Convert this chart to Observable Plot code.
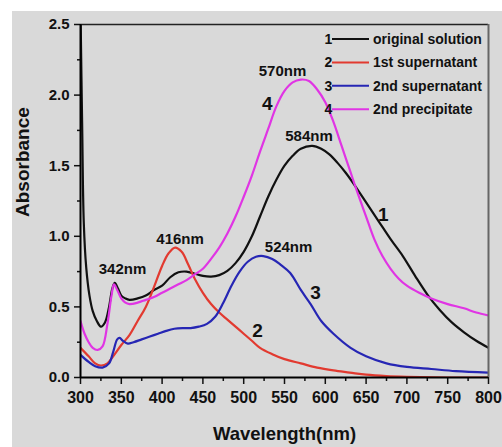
<!DOCTYPE html>
<html><head><meta charset="utf-8">
<script src="https://cdn.jsdelivr.net/npm/d3@7"></script>
<script src="https://cdn.jsdelivr.net/npm/@observablehq/plot@0.6"></script>
<style>
html,body{margin:0;padding:0;background:#fff;}
#chart{position:absolute;left:12px;top:11px;}
</style></head><body><div id="chart"></div>
<script>
const seriesNames = ["original solution", "1st supernatant", "2nd supernatant", "2nd precipitate"];
const seriesNumbers = ["1", "2", "3", "4"];
const seriesColors = ["#111111", "#e23a30", "#2626b4", "#e035e4"];

const wl1 = [300,302,304,307,311,315,320,325,330,335,339,342,346,350,355,360,370,380,390,400,410,420,430,440,450,460,470,480,490,500,510,520,530,540,550,560,570,584,595,605,615,625,635,650,665,680,695,710,726,740,755,770,785,800];
const abs1 = [2.6,1.8,1.1,0.78,0.58,0.47,0.40,0.36,0.39,0.50,0.63,0.67,0.63,0.58,0.56,0.55,0.56,0.58,0.62,0.65,0.71,0.745,0.75,0.735,0.72,0.715,0.725,0.755,0.81,0.89,1.00,1.14,1.28,1.40,1.50,1.57,1.62,1.64,1.62,1.58,1.52,1.45,1.37,1.24,1.11,0.98,0.86,0.72,0.58,0.48,0.39,0.32,0.26,0.21];

const wl2 = [300,310,318,325,333,340,350,360,370,380,390,400,408,416,424,432,440,450,460,470,480,490,500,510,520,535,550,570,590,610,630,650,675,700,750,800];
const abs2 = [0.21,0.15,0.10,0.085,0.10,0.15,0.23,0.30,0.40,0.50,0.64,0.79,0.88,0.92,0.89,0.80,0.70,0.60,0.52,0.46,0.41,0.36,0.31,0.26,0.21,0.165,0.13,0.10,0.07,0.05,0.035,0.02,0.01,0.005,0.0,0.0];

const wl3 = [300,310,318,327,335,340,345,348,352,358,365,375,385,395,405,415,425,435,445,455,465,475,485,495,505,515,524,535,545,557,570,582,595,610,631,650,675,700,730,760,800];
const abs3 = [0.16,0.11,0.08,0.07,0.10,0.18,0.27,0.28,0.26,0.24,0.25,0.27,0.29,0.31,0.33,0.345,0.35,0.35,0.36,0.38,0.43,0.53,0.65,0.75,0.82,0.855,0.86,0.84,0.80,0.74,0.62,0.52,0.40,0.31,0.21,0.15,0.10,0.075,0.06,0.045,0.035];

const wl4 = [300,305,310,315,321,327,333,338,341,345,350,355,360,370,380,390,400,410,420,430,440,450,460,470,480,490,500,510,520,530,540,550,560,570,580,590,600,610,620,630,640,650,660,670,680,690,700,715,730,750,770,785,800];
const abs4 = [0.40,0.31,0.25,0.21,0.195,0.22,0.38,0.58,0.66,0.62,0.56,0.53,0.52,0.53,0.55,0.57,0.60,0.63,0.66,0.69,0.73,0.77,0.84,0.92,1.02,1.14,1.28,1.43,1.60,1.76,1.92,2.03,2.09,2.11,2.10,2.04,1.95,1.81,1.64,1.47,1.30,1.14,0.98,0.86,0.77,0.70,0.65,0.60,0.56,0.52,0.49,0.46,0.44];

const xTickValues = [300,350,400,450,500,550,600,650,700,750,800];
const xMinorTicks = [325,375,425,475,525,575,625,675,725,775];
const yTickValues = [0,0.5,1.0,1.5,2.0,2.5];
const yMinorTicks = [0.25,0.75,1.25,1.75,2.25];

const peakText = ["342nm","416nm","524nm","570nm","584nm"];
const peakLabelWl = [351.5, 422, 555, 547.5, 580];
const peakLabelAbs = [0.765, 0.98, 0.92, 2.17, 1.71];

const curveNumText = ["1","2","3","4"];
const curveNumWl = [671, 517, 588, 529];
const curveNumAbs = [1.15, 0.33, 0.60, 1.94];

const wls = [wl1, wl2, wl3, wl4];
const abss = [abs1, abs2, abs3, abs4];
const rows = [];
seriesNames.forEach((s, i) => wls[i].forEach((w, j) => rows.push({series: s, wl: w, abs: abss[i][j]})));
const peaks = peakText.map((t, i) => ({t, wl: peakLabelWl[i], abs: peakLabelAbs[i]}));
const nums = curveNumText.map((t, i) => ({t, wl: curveNumWl[i], abs: curveNumAbs[i]}));

const FONT = "'Liberation Sans', Arial, Helvetica, sans-serif";

function legend() {
  const g = d3.create("svg:g").attr("font-family", FONT).attr("font-weight", "bold").attr("font-size", 14).attr("fill", "#111");
  seriesNames.forEach((name, i) => {
    const y = 28 + i * 23.4;
    g.append("line").attr("x1", 320).attr("x2", 357).attr("y1", y).attr("y2", y)
      .attr("stroke", seriesColors[i]).attr("stroke-width", 2);
    g.append("text").attr("x", 316.5).attr("y", y).attr("dy", "0.35em").attr("text-anchor", "middle").text(seriesNumbers[i]);
    g.append("text").attr("x", 361).attr("y", y).attr("dy", "0.35em").attr("text-anchor", "start").text(name);
  });
  return g.node();
}

const plot = Plot.plot({
  width: 490, height: 436,
  marginLeft: 68, marginRight: 14, marginTop: 13, marginBottom: 70,
  style: {background: "#d9d9d9", fontFamily: FONT, color: "#111", overflow: "visible"},
  x: {domain: [300, 800]},
  y: {domain: [0, 2.5]},
  color: {domain: seriesNames, range: seriesColors},
  marks: [
    Plot.axisX({ticks: xMinorTicks, tickSize: 4, tickFormat: () => "", strokeWidth: 1.5, label: null}),
    Plot.axisX({ticks: xTickValues, tickSize: 7, tickPadding: 7, fontSize: 16, fontWeight: "bold", strokeWidth: 1.5, label: null}),
    Plot.axisY({ticks: yMinorTicks, tickSize: 3, tickFormat: () => "", strokeWidth: 1.5, label: null}),
    Plot.axisY({ticks: yTickValues, tickSize: 6, tickPadding: 5, tickFormat: d3.format(".1f"), fontSize: 15, fontWeight: "bold", strokeWidth: 1.5, label: null}),
    Plot.line(rows, {x: "wl", y: "abs", stroke: "series", z: "series", strokeWidth: 2.2, curve: "catmull-rom", clip: true}),
    Plot.ruleY([2.5], {stroke: "#222", strokeWidth: 1.5}),
    Plot.ruleX([800], {stroke: "#666", strokeWidth: 2}),
    Plot.ruleX([300], {stroke: "#000", strokeWidth: 2}),
    Plot.ruleY([0], {stroke: "#000", strokeWidth: 2}),
    Plot.text(peaks, {x: "wl", y: "abs", text: "t", fontSize: 15, fontWeight: "bold", fill: "#111", lineAnchor: "middle"}),
    Plot.text(nums, {x: "wl", y: "abs", text: "t", fontSize: 19, fontWeight: "bold", fill: "#111", lineAnchor: "middle"}),
    Plot.text(["Absorbance"], {text: d => d, frameAnchor: "left", dx: -58, dy: 16, rotate: -90, fontSize: 19, fontWeight: "bold", fill: "#111", lineAnchor: "middle", style: {letterSpacing: "1px"}}),
    Plot.text(["Wavelength(nm)"], {text: d => d, frameAnchor: "bottom", dy: 57, fontSize: 18.5, fontWeight: "bold", fill: "#111", lineAnchor: "middle"}),
    legend
  ]
});
document.getElementById("chart").appendChild(plot);
</script></body></html>
